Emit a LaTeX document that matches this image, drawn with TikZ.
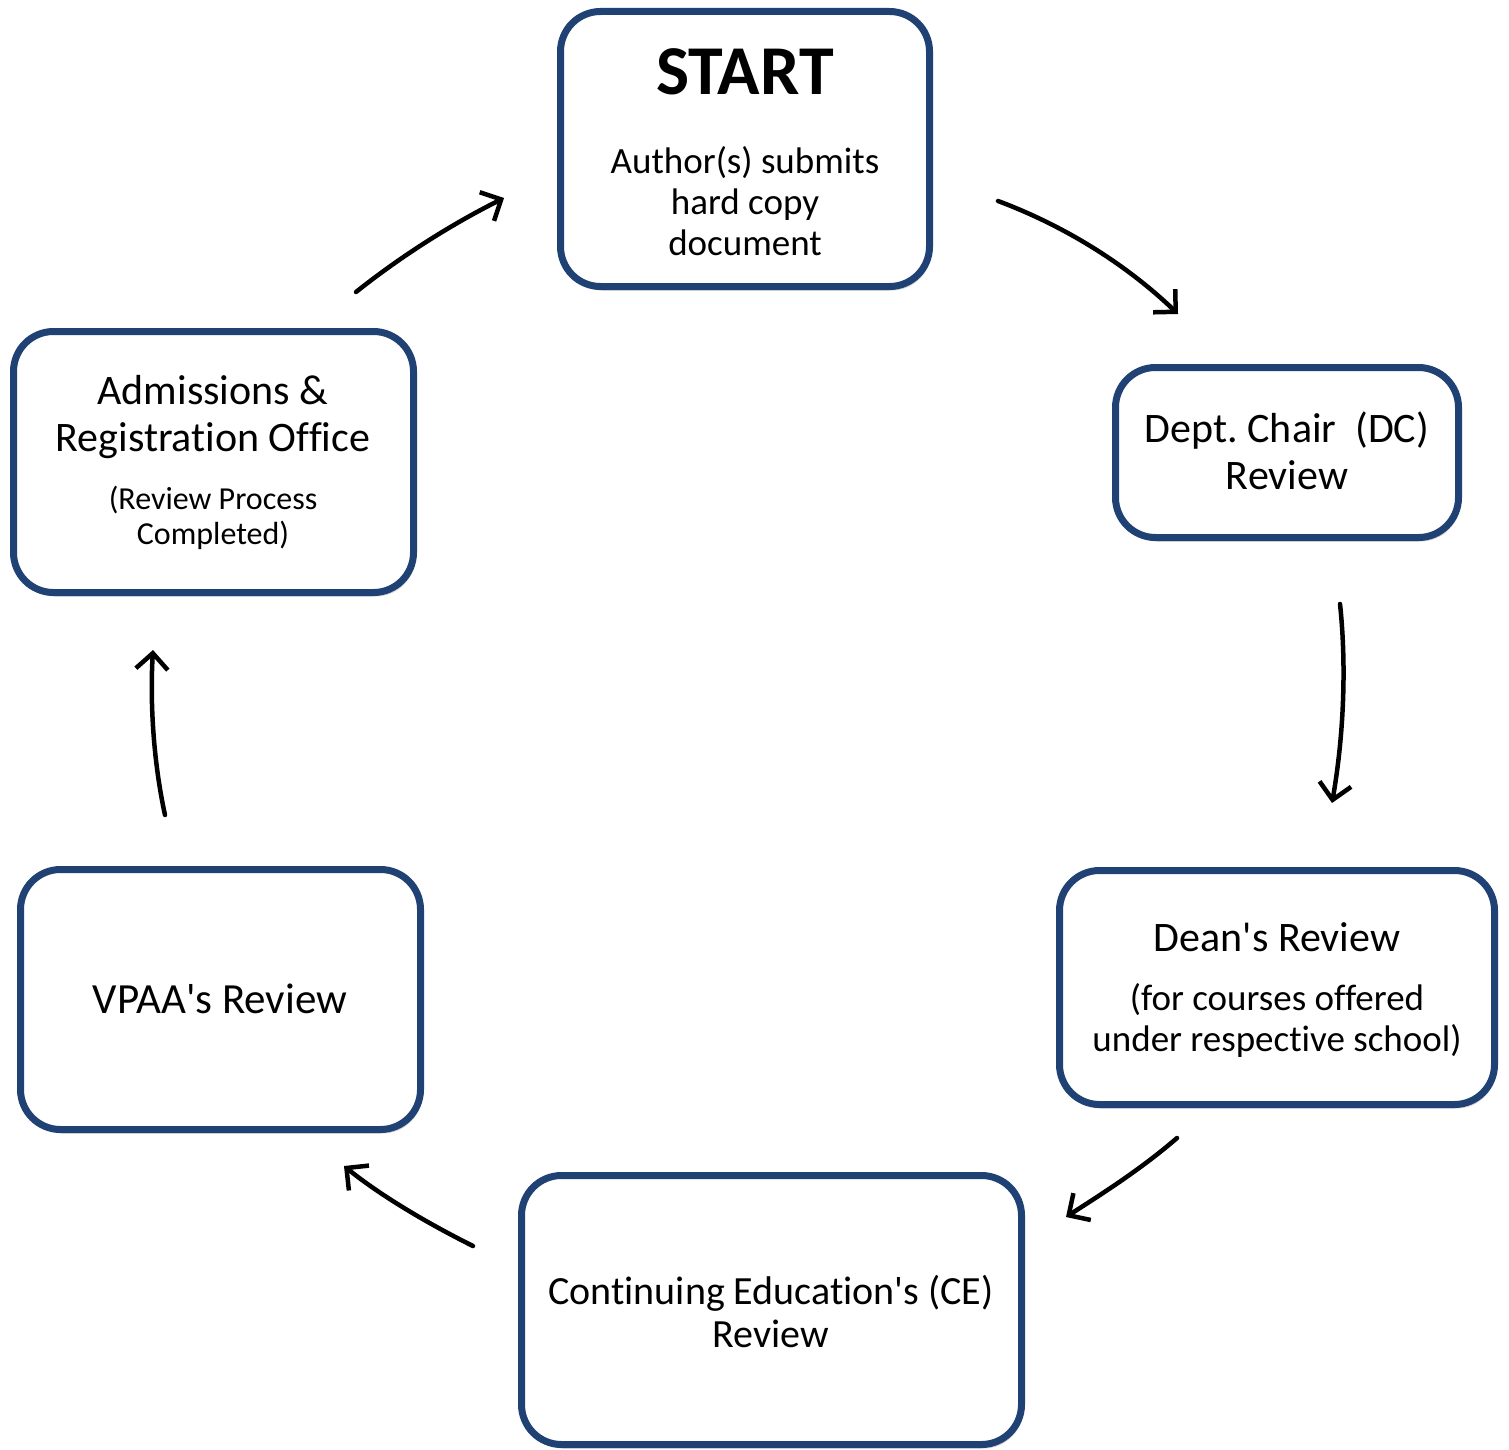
\documentclass[tikz,border=0pt]{standalone}
\usepackage{fontspec}
\setmainfont{Carlito}[Ligatures={TeXOff,NoCommon}]
\usetikzlibrary{arrows.meta,shadows}
\definecolor{boxblue}{RGB}{31,65,115}
\frenchspacing
\tikzset{
  box/.style={draw=boxblue, line width=7pt, rounded corners=40pt, fill=white,
    drop shadow={shadow xshift=2pt, shadow yshift=-4pt, fill=black!35, opacity=0.5}},
  flow/.style={line width=4.5pt, line cap=round, -{Straight Barb[length=16pt,width=32pt,line width=4.5pt]}},
  txt/.style={align=center, font=\fontsize{37}{41}\selectfont},
}
\begin{document}
\begin{tikzpicture}[x=1pt,y=-1pt]
\useasboundingbox (0,0) rectangle (1509,1450);
% boxes
\draw[box] (560.5,11.5) rectangle (929.5,286.5);
\draw[box] (1115.5,367.5) rectangle (1458.5,537.5);
\draw[box] (1059.5,870.5) rectangle (1494.5,1104.5);
\draw[box] (521.5,1175.5) rectangle (1021.5,1444.5);
\draw[box] (20.5,869.5) rectangle (420.5,1129.5);
\draw[box] (13.5,331.5) rectangle (413.5,592.5);
% texts
\node[font=\fontsize{70}{76}\selectfont\bfseries] (start) at (745,72) {START};
\node[txt] (startsub) at (745,201) {Author(s) submits\\hard copy\\document};
\node[txt, font=\fontsize{42}{47}\selectfont] (dc) at (1287,451) {Dept. Chair\ \ (DC)\\Review};
\node[txt, font=\fontsize{42}{47}\selectfont] (dean) at (1277,937) {Dean's Review};
\node[txt] (deansub) at (1277,1020) {(for courses offered\\under respective school)};
\node[txt, font=\fontsize{40}{43}\selectfont] (ce) at (771,1311) {Continuing Education's (CE)\\Review};
\node[txt, font=\fontsize{43}{45}\selectfont] (vpaa) at (220,999) {VPAA's Review};
\node[txt, font=\fontsize{42}{47}\selectfont] (adm) at (213,417) {Admissions \&\\Registration Office};
\node[txt, font=\fontsize{32}{35}\selectfont] (admsub) at (213,518) {(Review Process\\Completed)};
% connector end points
\coordinate (a1) at (998,201); \coordinate (b1) at (1178,314);
\coordinate (a2) at (1340,604); \coordinate (b2) at (1332,803);
\coordinate (a3) at (1177,1138); \coordinate (b3) at (1066,1217);
\coordinate (a4) at (473,1246); \coordinate (b4) at (344,1166);
\coordinate (a5) at (165,815); \coordinate (b5) at (153,650);
\coordinate (a6) at (356,292); \coordinate (b6) at (504,198);
\draw[flow] (a1) .. controls (1070,228) and (1130,268) .. (b1);
\draw[flow] (a2) .. controls (1347,670) and (1343,740) .. (b2);
\draw[flow] (a3) .. controls (1140,1170) and (1100,1195) .. (b3);
\draw[flow] (a4) .. controls (425,1222) and (380,1195) .. (b4);
\draw[flow] (a5) .. controls (153,760) and (150,700) .. (b5);
\draw[flow] (a6) .. controls (400,257) and (450,225) .. (b6);
\end{tikzpicture}
\end{document}
